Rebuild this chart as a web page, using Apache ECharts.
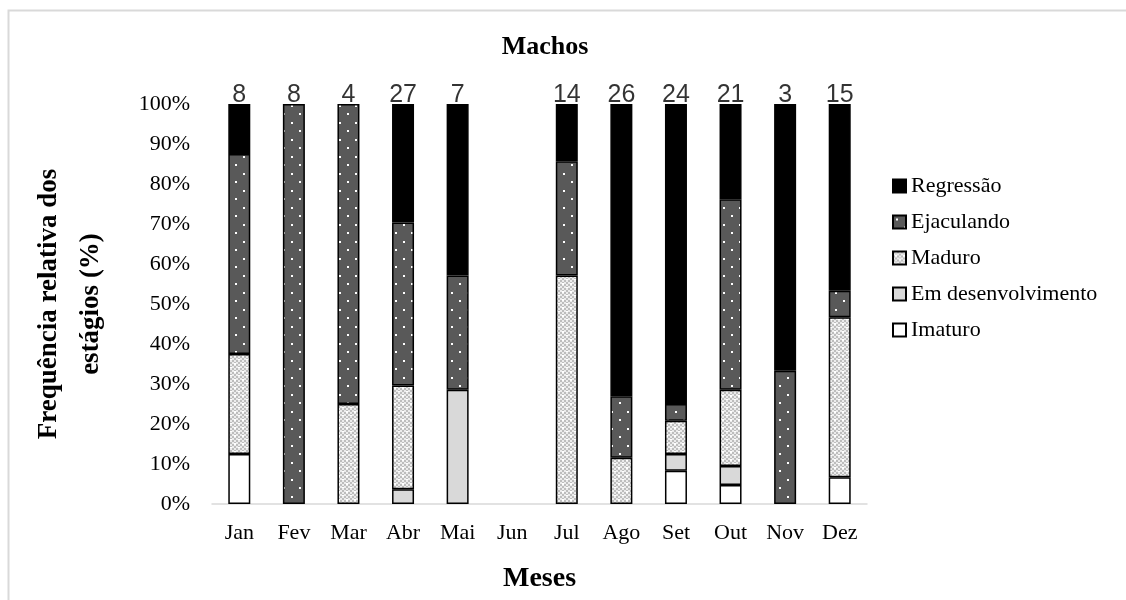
<!DOCTYPE html>
<html>
<head>
<meta charset="utf-8">
<script src="https://cdn.jsdelivr.net/npm/echarts@6/dist/echarts.min.js"></script>
<style>
html,body{margin:0;padding:0;background:#fff;}
#c{width:1126px;height:600px;}
</style>
</head>
<body>
<div id="c"></div>
<script>
const months = ['Jan','Fev','Mar','Abr','Mai','Jun','Jul','Ago','Set','Out','Nov','Dez'];
const counts = [8, 8, 4, 27, 7, null, 14, 26, 24, 21, 3, 15];
const imaturo = [12.5, 0, 0, 0, 0, null, 0, 0, 8.33, 4.76, 0, 6.67];
const emDesenvolvimento = [0, 0, 0, 3.70, 28.57, null, 0, 0, 4.17, 4.76, 0, 0];
const maduro = [25, 0, 25, 25.93, 0, null, 57.14, 11.54, 8.33, 19.05, 0, 40];
const ejaculando = [50, 100, 75, 40.74, 28.57, null, 28.57, 15.38, 4.17, 47.62, 33.33, 6.67];
const regressao = [12.5, 0, 0, 29.63, 42.86, null, 14.29, 73.08, 75, 23.81, 66.67, 46.67];
const yTicks = [0,10,20,30,40,50,60,70,80,90,100];

function makeEjacPattern(){
  const c = document.createElement('canvas'); c.width = 16; c.height = 17;
  const g = c.getContext('2d');
  g.fillStyle = '#595959'; g.fillRect(0,0,16,17);
  g.fillStyle = '#ffffff';
  g.fillRect(3,3,2,2); g.fillRect(11,11,2,2);
  return c;
}
function makeMadPattern(){
  const c = document.createElement('canvas'); c.width = 8; c.height = 8;
  const g = c.getContext('2d');
  g.fillStyle = '#ececec'; g.fillRect(0,0,8,8);
  g.fillStyle = '#bdbdbd';
  for (let y=0;y<8;y+=2) for (let x=0;x<8;x+=2) if (((x+y)/2)%2===0) g.fillRect(x,y,2,2);
  g.fillStyle = '#ffffff';
  g.fillRect(2,3,2,2); g.fillRect(6,7,2,1);
  return c;
}

const clean = arr => arr.map(v => (v === null || v === 0) ? '-' : v);
const totals = months.map((m,i) => {
  const s = [imaturo,emDesenvolvimento,maduro,ejaculando,regressao].reduce((a,arr)=>a+(arr[i]||0),0);
  return counts[i] === null ? '-' : s;
});

const serif = 'Liberation Serif';

function bar(name, data, color){
  return {type:'bar', stack:'t', barWidth:22, name, data: clean(data),
    itemStyle: {color, borderColor:'#000', borderWidth:1.5}};
}

const chart = echarts.init(document.getElementById('c'), null, {renderer:'canvas'});
chart.setOption({
  animation:false,
  backgroundColor:'#fff',
  title:{text:'Machos', left:540, textAlign:'center', top:29,
    textStyle:{fontFamily:serif, fontWeight:'bold', fontSize:26, color:'#000'}},
  graphic:[{type:'rect', left:6, top:8, shape:{width:1300, height:700},
    style:{fill:null, stroke:'#d9d9d9', lineWidth:2}, silent:true}],
  legend:{orient:'vertical', left:887, top:170, icon:'rect', itemWidth:13, itemHeight:13, itemGap:14,
    data:['Regressão','Ejaculando','Maduro','Em desenvolvimento','Imaturo'],
    textStyle:{fontFamily:serif, fontSize:22, color:'#000', lineHeight:22}},
  grid:{left:212, right:259, top:104, bottom:96, containLabel:false},
  xAxis:{type:'category', data:months, boundaryGap:true,
    axisLine:{lineStyle:{color:'#d9d9d9', width:1.5}}, axisTick:{show:false},
    axisLabel:{fontFamily:serif, fontSize:22, color:'#000', margin:18},
    name:'Meses', nameLocation:'middle', nameGap:61,
    nameTextStyle:{fontFamily:serif, fontWeight:'bold', fontSize:28, color:'#000'}},
  yAxis:{type:'value', min:0, max:100, interval:10,
    axisLine:{show:false}, axisTick:{show:false}, splitLine:{show:false},
    axisLabel:{fontFamily:serif, fontSize:22, color:'#000', margin:22,
      formatter: v => yTicks.includes(v) ? v + '%' : ''},
    name:'Frequência relativa dos\nestágios (%)', nameLocation:'middle', nameGap:100, nameRotate:90,
    nameTextStyle:{fontFamily:serif, fontWeight:'bold', fontSize:27, color:'#000', lineHeight:42}},
  series:[
    bar('Imaturo', imaturo, '#ffffff'),
    bar('Em desenvolvimento', emDesenvolvimento, '#d9d9d9'),
    bar('Maduro', maduro, {image: makeMadPattern(), repeat:'repeat'}),
    bar('Ejaculando', ejaculando, {image: makeEjacPattern(), repeat:'repeat'}),
    bar('Regressão', regressao, '#000000'),
    {type:'scatter', name:'n', data: totals, symbolSize:0, silent:true,
      label:{show:true, position:'top', distance:-4,
        fontFamily:'Liberation Sans', fontSize:25, color:'#000',
        formatter: p => counts[p.dataIndex] === null ? '' : String(counts[p.dataIndex])}}
  ]
});
</script>
</body>
</html>
